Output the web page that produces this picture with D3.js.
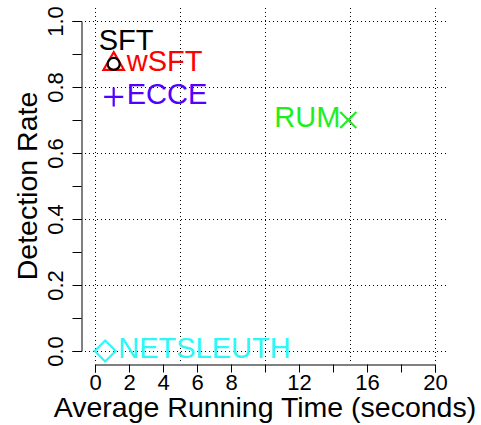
<!DOCTYPE html>
<html>
<head>
<meta charset="utf-8">
<script src="https://cdn.jsdelivr.net/npm/d3@7"></script>
<style>
  html, body { margin: 0; padding: 0; background: #fff; }
  svg { display: block; font-family: "Liberation Sans", Arial, Helvetica, sans-serif; }
</style>
</head>
<body>
<div id="chart"></div>
<script>
// detection rate vs. running time per method
const methods    = ['SFT', 'wSFT', 'ECCE', 'RUM', 'NETSLEUTH'];
const avgTime    = [1.1, 1.1, 1.1, 14.9, 0.6];
const detRate    = [0.87, 0.87, 0.77, 0.70, 0.0];

const xTicks      = [0, 2, 4, 6, 8, 10, 12, 14, 16, 18, 20];
const xTickLabels = ['0', '2', '4', '6', '8', '', '12', '', '16', '', '20'];
const yTicks      = [0, 0.1, 0.2, 0.3, 0.4, 0.5, 0.6, 0.7, 0.8, 0.9, 1.0];
const yTickLabels = ['0.0', '', '0.2', '', '0.4', '', '0.6', '', '0.8', '', '1.0'];
const xGrid       = [0, 5, 10, 15, 20];
const yGrid       = [0, 0.2, 0.4, 0.6, 0.8, 1.0];

// marker / label styling per method (R-ish pch + pos)
const STYLE = {
  SFT:       { color: '#000000', sym: d3.symbolCircle,    size: 113, pos: 'top' },
  wSFT:      { color: '#ff0000', sym: d3.symbolTriangle2, size: 300, pos: 'right' },
  ECCE:      { color: '#5200ff', sym: d3.symbolPlus,      size: 120, pos: 'right' },
  RUM:       { color: '#1cf01c', sym: d3.symbolTimes,     size: 170, pos: 'left' },
  NETSLEUTH: { color: '#2cf8f8', sym: d3.symbolDiamond2,  size: 280, pos: 'right' },
};

const W = 481, H = 425;
const x = d3.scaleLinear().domain([0, 20]).range([95, 435]);
const y = d3.scaleLinear().domain([0, 1]).range([351, 21]);
// plot region = data range + 4% each side (R default)
const px0 = Math.round(x(-0.8)), px1 = Math.round(x(20.8));
const py0 = Math.round(y(-0.04)), py1 = Math.round(y(1.04));

const svg = d3.select('#chart').append('svg')
  .attr('width', W).attr('height', H).attr('viewBox', `0 0 ${W} ${H}`);

// dotted grid
const grid = svg.append('g').attr('stroke', '#000').attr('stroke-width', 1)
  .attr('stroke-dasharray', '1,3');
grid.selectAll('.gx').data(xGrid).join('line').attr('class', 'gx')
  .attr('x1', d => Math.round(x(d)) + 0.5).attr('x2', d => Math.round(x(d)) + 0.5)
  .attr('y1', py1).attr('y2', py0);
grid.selectAll('.gy').data(yGrid).join('line').attr('class', 'gy')
  .attr('y1', d => Math.round(y(d)) + 0.5).attr('y2', d => Math.round(y(d)) + 0.5)
  .attr('x1', px0).attr('x2', px1);

// x axis
const xAxis = svg.append('g')
  .attr('transform', `translate(0,${py0 + 0.5})`)
  .call(d3.axisBottom(x).tickValues(xTicks).tickSizeOuter(0).tickSize(8).tickPadding(1.5)
    .tickFormat((d, i) => xTickLabels[i]));
xAxis.attr('font-family', null);
xAxis.selectAll('text').attr('font-size', 22).attr('fill', '#000')
  .filter(function () { return this.textContent === ''; }).remove();

// y axis, labels rotated like R's default las=0
const yAxis = svg.append('g')
  .attr('transform', `translate(${px0 + 0.5},0)`)
  .call(d3.axisLeft(y).tickValues(yTicks).tickSizeOuter(0).tickSize(9)
    .tickFormat((d, i) => yTickLabels[i]));
yAxis.attr('font-family', null);
yAxis.selectAll('text')
  .attr('x', 0).attr('dy', null).attr('font-size', 22).attr('fill', '#000')
  .attr('text-anchor', 'middle')
  .attr('transform', 'translate(-18.5,0) rotate(-90)')
  .filter(function () { return this.textContent === ''; }).remove();

// axis titles
svg.append('text')
  .attr('x', (px0 + px1) / 2).attr('y', 417)
  .attr('text-anchor', 'middle').attr('font-size', 28.5).attr('fill', '#000')
  .text('Average Running Time (seconds)');
svg.append('text')
  .attr('transform', `translate(37,${(py0 + py1) / 2}) rotate(-90)`)
  .attr('text-anchor', 'middle').attr('font-size', 28.5).attr('fill', '#000')
  .text('Detection Rate');

// points: draw wSFT triangle before SFT circle so circle sits on top
const order = [1, 0, 2, 3, 4];
const pts = svg.append('g');
order.forEach(i => {
  const s = STYLE[methods[i]];
  pts.append('path')
    .attr('transform', `translate(${x(avgTime[i])},${y(detRate[i])})`)
    .attr('d', d3.symbol(s.sym, s.size)())
    .attr('fill', 'none').attr('stroke', s.color).attr('stroke-width', 2.2);
});

// point labels
const labels = svg.append('g').attr('font-size', 29);
methods.forEach((m, i) => {
  const s = STYLE[m];
  const cx = x(avgTime[i]), cy = y(detRate[i]);
  const t = labels.append('text').attr('fill', s.color).text(m);
  if (s.pos === 'top') {
    t.attr('x', cx - 15).attr('y', cy - 14).attr('text-anchor', 'start');
  } else if (s.pos === 'left') {
    t.attr('x', cx - 8).attr('y', cy + 7).attr('text-anchor', 'end');
  } else {
    t.attr('x', cx + 13).attr('y', cy + 7).attr('text-anchor', 'start');
  }
});
</script>
</body>
</html>
